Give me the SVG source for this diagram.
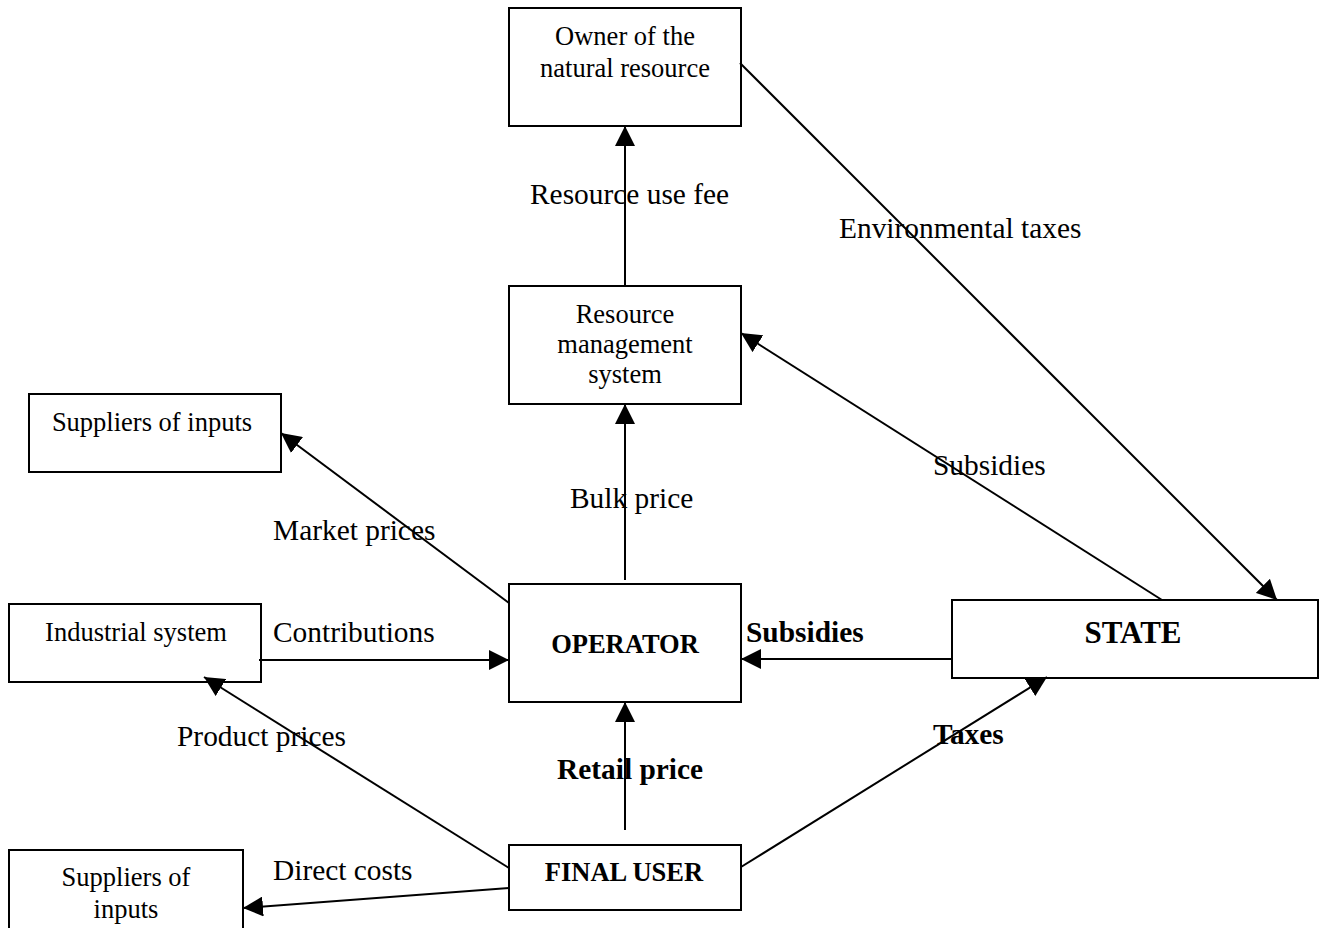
<svg xmlns="http://www.w3.org/2000/svg" width="1325" height="928" viewBox="0 0 1325 928">
<style>
.box{fill:#fff;stroke:#000;stroke-width:2}
.bt{font-family:"Liberation Serif","Times New Roman",serif;font-size:26.5px;fill:#000;text-anchor:middle}
.bb{font-family:"Liberation Serif","Times New Roman",serif;font-size:26.5px;font-weight:bold;fill:#000;text-anchor:middle}
.lb{font-family:"Liberation Serif","Times New Roman",serif;font-size:29.4px;fill:#000}
.lbb{font-family:"Liberation Serif","Times New Roman",serif;font-size:29.4px;font-weight:bold;fill:#000}
.cn{stroke:#000;stroke-width:2;fill:none;marker-end:url(#ah)}
</style>
<defs>
<marker id="ah" viewBox="0 0 20 20" refX="20" refY="10" markerWidth="20" markerHeight="20" markerUnits="userSpaceOnUse" orient="auto">
<path d="M0,0 L20,10 L0,20 z" fill="#000"/>
</marker>
</defs>
<rect width="1325" height="928" fill="#fff"/>
<g id="owner"><rect class="box" x="509" y="8" width="232" height="118"/><text class="bt" x="625" y="45">Owner of the</text><text class="bt" x="625" y="77">natural resource</text></g>
<g id="rms"><rect class="box" x="509" y="286" width="232" height="118"/><text class="bt" x="625" y="323">Resource</text><text class="bt" x="625" y="353">management</text><text class="bt" x="625" y="383">system</text></g>
<g id="suppliers-top"><rect class="box" x="29" y="394" width="252" height="78"/><text class="bt" x="152" y="431">Suppliers of inputs</text></g>
<g id="industrial"><rect class="box" x="9" y="604" width="252" height="78"/><text class="bt" x="136" y="641">Industrial system</text></g>
<g id="operator"><rect class="box" x="509" y="584" width="232" height="118"/><text class="bb" x="625" y="653">OPERATOR</text></g>
<g id="state"><rect class="box" x="952" y="600" width="366" height="78"/><text class="bb" x="1133" y="643" style="font-size:31px">STATE</text></g>
<g id="final-user"><rect class="box" x="509" y="845" width="232" height="65"/><text class="bb" x="624" y="881">FINAL USER</text></g>
<g id="suppliers-bottom"><rect class="box" x="9" y="850" width="234" height="100"/><text class="bt" x="126" y="886">Suppliers of</text><text class="bt" x="126" y="918">inputs</text></g>
<g id="connectors">
<line class="cn" x1="625" y1="286" x2="625" y2="126"/>
<line class="cn" x1="625" y1="580" x2="625" y2="404"/>
<line class="cn" x1="740" y1="63" x2="1277" y2="600"/>
<line class="cn" x1="1162" y1="600" x2="741" y2="333"/>
<line class="cn" x1="509" y1="603" x2="281" y2="433"/>
<line class="cn" x1="259" y1="660" x2="509" y2="660"/>
<line class="cn" x1="951" y1="659" x2="741" y2="659"/>
<line class="cn" x1="625" y1="830" x2="625" y2="702"/>
<line class="cn" x1="509" y1="868" x2="204" y2="677"/>
<line class="cn" x1="741" y1="867" x2="1047" y2="677"/>
<line class="cn" x1="509" y1="888" x2="243" y2="908"/>
</g>
<g id="labels">
<text class="lb" x="530" y="204">Resource use fee</text>
<text class="lb" x="839" y="238">Environmental taxes</text>
<text class="lb" x="933" y="475">Subsidies</text>
<text class="lb" x="570" y="508">Bulk price</text>
<text class="lb" x="273" y="540">Market prices</text>
<text class="lb" x="273" y="642">Contributions</text>
<text class="lbb" x="746" y="642">Subsidies</text>
<text class="lb" x="177" y="746">Product prices</text>
<text class="lbb" x="933" y="744">Taxes</text>
<text class="lbb" x="557" y="779">Retail price</text>
<text class="lb" x="273" y="880">Direct costs</text>
</g>
</svg>
